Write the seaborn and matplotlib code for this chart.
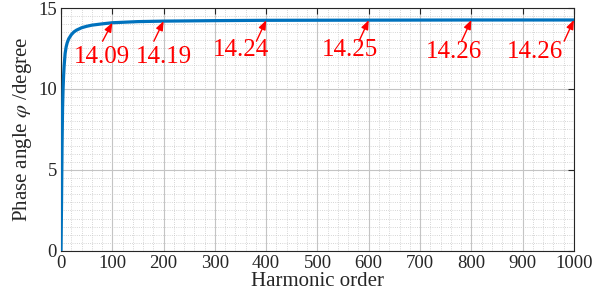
import numpy as np
import pandas as pd
import seaborn as sns
import matplotlib
matplotlib.use("Agg")
import matplotlib.pyplot as plt
from matplotlib.ticker import MultipleLocator

harmonic = [0, 1, 2, 3, 4, 5, 6, 8, 10, 12, 15, 20, 25, 30, 40, 50, 60, 80,
            100, 150, 200, 300, 400, 500, 600, 700, 800, 900, 1000]
phase = [0, 3.0, 6.5, 8.8, 10.0, 10.8, 11.4, 12.2, 12.6, 12.85, 13.1, 13.35,
         13.52, 13.63, 13.78, 13.87, 13.94, 14.02, 14.09, 14.16, 14.19, 14.22,
         14.24, 14.245, 14.25, 14.255, 14.26, 14.26, 14.26]

ann_x = [100, 200, 400, 600, 800, 1000]
ann_y = [14.09, 14.19, 14.24, 14.25, 14.26, 14.26]
ann_labels = ["14.09", "14.19", "14.24", "14.25", "14.26", "14.26"]
text_x = [80, 201, 351, 563, 767, 924]
text_y = [11.95, 11.95, 12.4, 12.4, 12.3, 12.3]

sns.set_theme(style="white")
plt.rcParams['font.family'] = ['Liberation Serif', 'DejaVu Serif']
plt.rcParams['mathtext.fontset'] = 'stix'

df = pd.DataFrame({"h": harmonic, "phi": phase})

fig = plt.figure(figsize=(6.06, 3.02), dpi=100)
ax = fig.add_axes([0.1007, 0.169, 0.8463, 0.8045])

sns.lineplot(data=df, x="h", y="phi", ax=ax, color="#0072BD", linewidth=2.3, zorder=5)

ax.set_xlim(0, 1000)
ax.set_ylim(0, 15)
ax.xaxis.set_major_locator(MultipleLocator(100))
ax.xaxis.set_minor_locator(MultipleLocator(20))
ax.yaxis.set_major_locator(MultipleLocator(5))
ax.yaxis.set_minor_locator(MultipleLocator(0.5))

ax.grid(which="major", color="#c4c4c4", linestyle="-", linewidth=0.8, zorder=0)
ax.grid(which="minor", color="#c8c8c8", linestyle=":", linewidth=0.6, zorder=0)
ax.set_axisbelow(True)

for s in ax.spines.values():
    s.set_color("#262626")
    s.set_linewidth(0.8)

ax.tick_params(which="major", direction="in", length=4, width=0.8, top=True, right=True,
               labelsize=13.5, colors="#262626", pad=3)
ax.tick_params(which="minor", length=0, top=True, right=True)
for lab in ax.get_xticklabels() + ax.get_yticklabels():
    lab.set_color("#262626")

ax.set_xlabel("Harmonic order", fontsize=15, color="#262626", labelpad=0)
ax.set_ylabel(r"Phase angle $\varphi$ /degree", fontsize=15, color="#262626", labelpad=3)

for x, y, lab, tx, ty in zip(ann_x, ann_y, ann_labels, text_x, text_y):
    ax.annotate("", xy=(x, y), xytext=(x - 19, 12.95),
                arrowprops=dict(arrowstyle="-|>,head_length=0.45,head_width=0.18",
                                color="red", lw=1.0, shrinkA=0, shrinkB=0),
                zorder=6, annotation_clip=False)
    ax.text(tx, ty, lab, color="red", fontsize=18, ha="center", va="center", zorder=6)

fig.savefig("out.png", dpi=100)
